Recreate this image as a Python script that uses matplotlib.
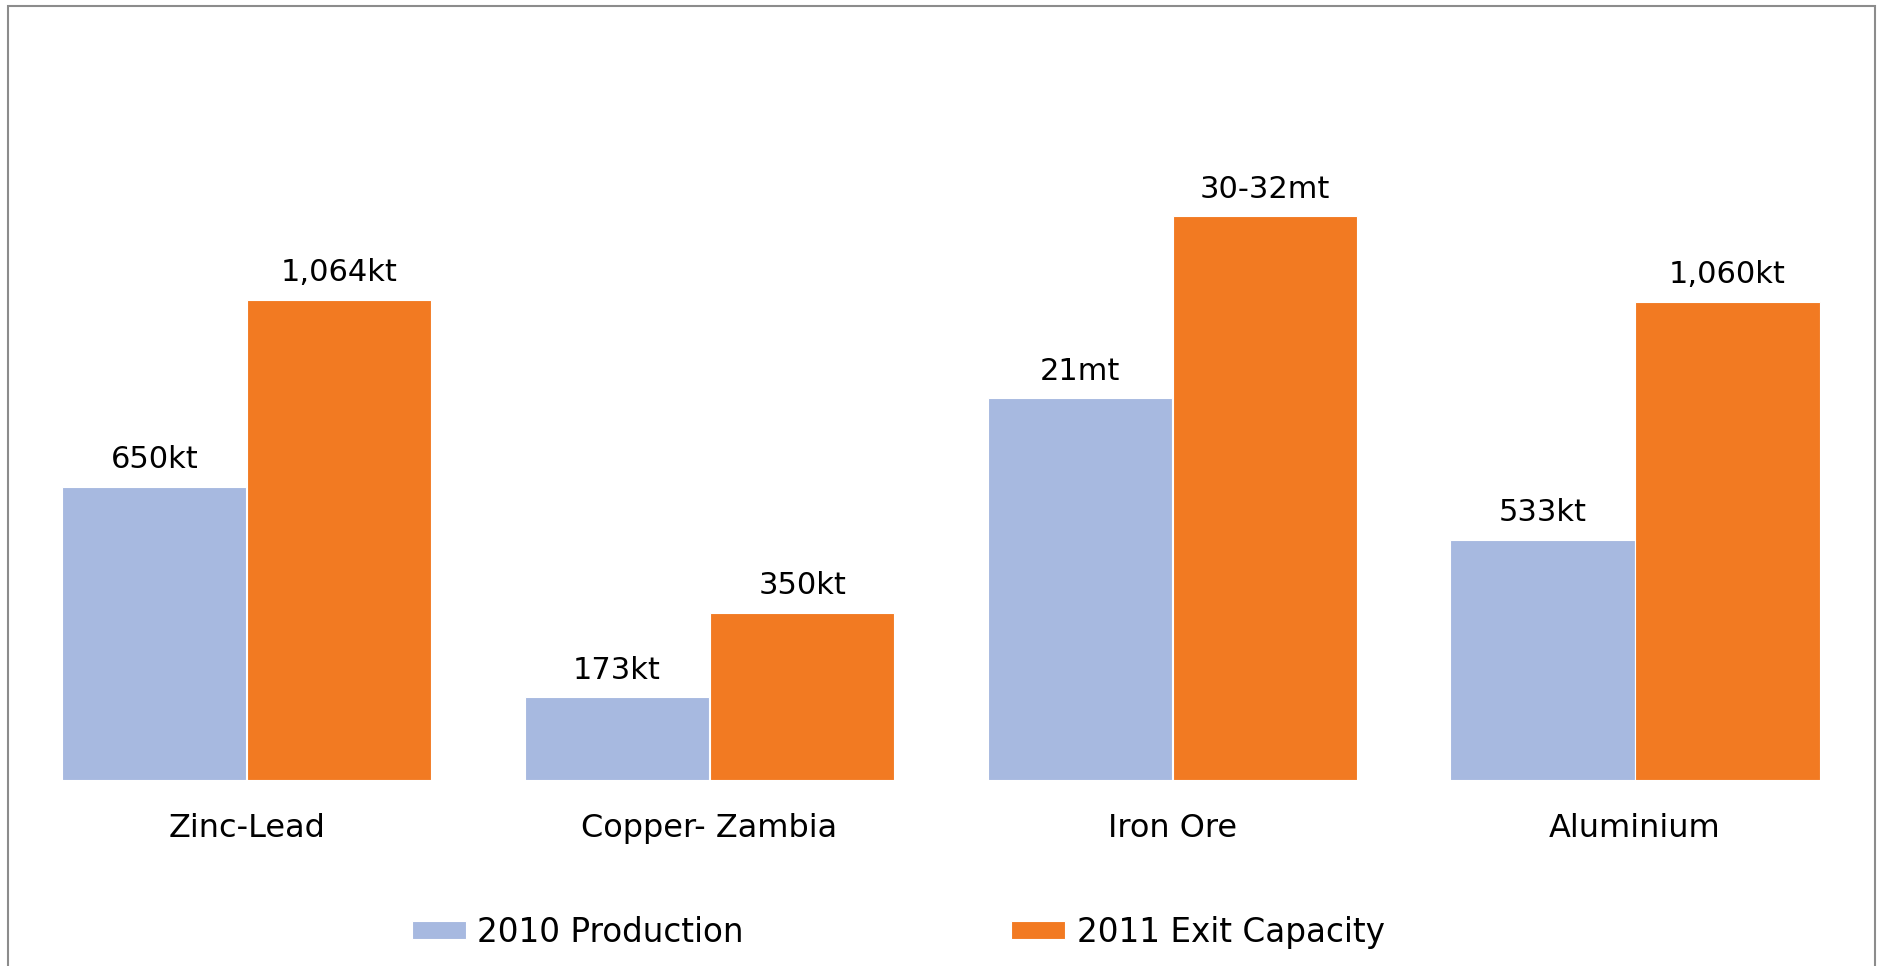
import matplotlib.pyplot as plt
import numpy as np
from matplotlib.patches import Rectangle

# output, by operation
categories = ["Zinc-Lead", "Copper- Zambia", "Iron Ore", "Aluminium"]
production_2010 = [650, 173, 21, 533]
capacity_2011 = [1064, 350, 31, 1060]        # iron ore 30-32mt drawn at the midpoint
labels_2010 = ["650kt", "173kt", "21mt", "533kt"]
labels_2011 = ["1,064kt", "350kt", "30-32mt", "1,060kt"]
# each group is drawn on its own unit scale (kt vs mt)
group_scale = [1.0, 1.06, 40.3, 1.0]

blue = "#A7B9E0"
orange = "#F27A22"

fig = plt.figure(figsize=(18.79, 9.66), dpi=100)
ax = fig.add_axes([0.00825, 0.1926, 0.985, 0.6211])

x = np.arange(len(categories))
h1 = np.array(production_2010) * np.array(group_scale)
h2 = np.array(capacity_2011) * np.array(group_scale)
w = 0.398
b1 = ax.bar(x - 0.2, h1, w, color=blue, edgecolor="white", linewidth=0.8, label="2010 Production")
b2 = ax.bar(x + 0.2, h2, w, color=orange, edgecolor="white", linewidth=0.8, label="2011 Exit Capacity")

ax.bar_label(b1, labels=labels_2010, padding=9, fontsize=22)
ax.bar_label(b2, labels=labels_2011, padding=9, fontsize=22)

ax.set_xlim(-0.5, 3.5)
ax.set_ylim(0, 1330)
ax.set_xticks(x)
ax.set_xticklabels(categories, fontsize=23)
ax.tick_params(axis="x", length=0, pad=24)
ax.set_yticks([])
for s in ax.spines.values():
    s.set_visible(False)

fig.legend(handles=[b1, b2], loc="center", bbox_to_anchor=(0.478, 0.035),
           ncol=2, frameon=False, fontsize=23.5, handlelength=1.65, handleheight=0.5,
           handletextpad=0.35, columnspacing=8.2)

# outer frame
fig.patches.append(Rectangle((8 / 1879, -0.1), 1867 / 1879, 1.1 - 6 / 966,
                             transform=fig.transFigure, fill=False,
                             edgecolor="#8c8c8c", linewidth=1.5))

fig.savefig("out.png", dpi=100)
